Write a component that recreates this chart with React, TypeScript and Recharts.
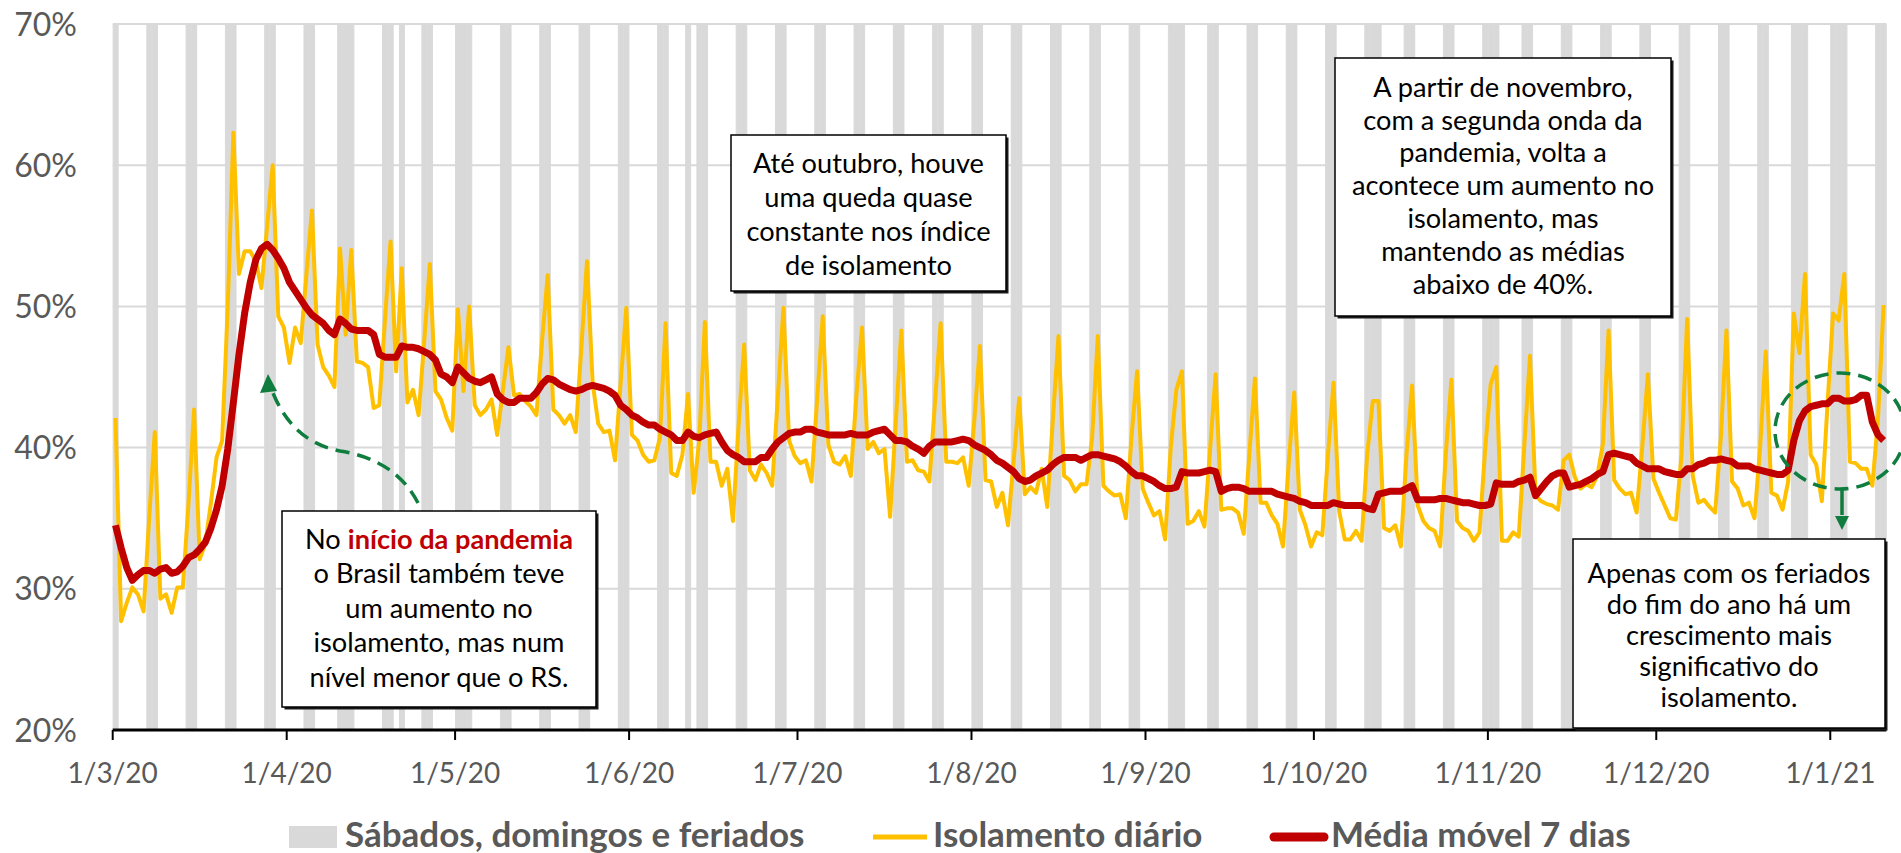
import React from 'react';
import { ComposedChart, Bar, Line, XAxis, YAxis, CartesianGrid } from 'recharts';

// months covered by the daily series (1/3/20 .. 10/1/21)
const monthNums = [3, 4, 5, 6, 7, 8, 9, 10, 11, 12, 1];
const monthYears = ['20', '20', '20', '20', '20', '20', '20', '20', '20', '20', '21'];
const monthDays = [31, 30, 31, 30, 31, 31, 30, 31, 30, 31, 10];

const monthTicks = ['1/3/20', '1/4/20', '1/5/20', '1/6/20', '1/7/20', '1/8/20', '1/9/20', '1/10/20', '1/11/20', '1/12/20', '1/1/21'];
const yTicks = [20, 30, 40, 50, 60, 70];

// Sábados, domingos e feriados
const grayDays = [
  '1/3/20', '7/3/20', '8/3/20', '14/3/20', '15/3/20', '21/3/20', '22/3/20', '28/3/20', '29/3/20',
  '4/4/20', '5/4/20', '10/4/20', '11/4/20', '12/4/20', '18/4/20', '19/4/20', '21/4/20', '25/4/20', '26/4/20',
  '1/5/20', '2/5/20', '3/5/20', '9/5/20', '10/5/20', '16/5/20', '17/5/20', '23/5/20', '24/5/20', '30/5/20', '31/5/20',
  '6/6/20', '7/6/20', '11/6/20', '13/6/20', '14/6/20', '20/6/20', '21/6/20', '27/6/20', '28/6/20',
  '4/7/20', '5/7/20', '11/7/20', '12/7/20', '18/7/20', '19/7/20', '25/7/20', '26/7/20',
  '1/8/20', '2/8/20', '8/8/20', '9/8/20', '15/8/20', '16/8/20', '22/8/20', '23/8/20', '29/8/20', '30/8/20',
  '5/9/20', '6/9/20', '7/9/20', '12/9/20', '13/9/20', '19/9/20', '20/9/20', '26/9/20', '27/9/20',
  '3/10/20', '4/10/20', '10/10/20', '11/10/20', '12/10/20', '17/10/20', '18/10/20', '24/10/20', '25/10/20', '31/10/20',
  '1/11/20', '2/11/20', '7/11/20', '8/11/20', '14/11/20', '15/11/20', '21/11/20', '22/11/20', '28/11/20', '29/11/20',
  '5/12/20', '6/12/20', '12/12/20', '13/12/20', '19/12/20', '20/12/20', '25/12/20', '26/12/20', '27/12/20',
  '1/1/21', '2/1/21', '3/1/21', '9/1/21', '10/1/21',
];

// Isolamento diário (%)
const isolMar = [42.1, 27.7, 29.0, 30.1, 29.6, 28.4, 35.0, 41.1, 29.3, 29.6, 28.3, 30.1, 30.1, 36.0, 42.7, 32.1, 33.2, 36.1, 39.3, 40.5, 50.0, 62.3, 52.3, 53.9, 53.9, 53.2, 51.3, 55.6, 60.0, 49.3, 48.5];
const isolApr = [46.0, 48.5, 47.4, 52.2, 56.8, 47.3, 45.7, 45.1, 44.3, 54.1, 48.0, 54.0, 46.1, 46.0, 45.7, 42.8, 43.0, 49.0, 54.6, 45.4, 52.7, 43.2, 44.1, 42.3, 47.5, 53.0, 44.0, 43.4, 42.1, 41.2];
const isolMay = [49.8, 44.0, 50.0, 43.0, 42.3, 42.7, 43.4, 40.9, 44.0, 47.1, 43.7, 43.8, 43.3, 42.9, 42.3, 47.6, 52.2, 42.7, 42.3, 41.7, 42.3, 41.1, 47.1, 53.2, 44.6, 41.7, 41.1, 41.2, 39.1, 44.6, 49.9];
const isolJun = [40.9, 40.5, 39.5, 39.0, 39.1, 40.7, 48.8, 38.2, 38.0, 39.5, 43.8, 36.8, 40.5, 48.9, 39.0, 39.0, 37.3, 38.5, 34.8, 41.5, 47.3, 38.4, 37.7, 38.8, 38.2, 37.3, 43.6, 49.9, 40.5, 39.4];
const isolJul = [38.9, 39.1, 37.6, 43.4, 49.3, 40.2, 39.0, 38.8, 39.4, 38.0, 43.7, 48.5, 39.9, 40.4, 39.6, 39.9, 35.1, 41.7, 48.3, 39.0, 39.1, 38.4, 38.3, 37.6, 43.2, 48.8, 39.0, 39.0, 38.9, 39.3, 37.3];
const isolAug = [41.9, 47.2, 37.7, 37.6, 35.8, 36.8, 34.5, 39.0, 43.5, 36.7, 37.2, 36.8, 38.5, 35.8, 42.0, 47.9, 38.0, 37.7, 36.9, 37.4, 37.4, 40.7, 47.9, 37.3, 36.9, 36.6, 36.7, 35.0, 40.7, 45.4, 37.1];
const isolSep = [36.1, 35.2, 35.5, 33.5, 40.0, 44.1, 45.4, 34.6, 34.8, 35.5, 34.4, 39.8, 45.2, 35.6, 35.7, 35.7, 35.4, 33.9, 39.5, 44.9, 36.1, 36.1, 35.2, 34.6, 33.0, 38.8, 43.9, 35.6, 34.5, 33.0];
const isolOct = [34.0, 33.8, 39.4, 44.6, 35.5, 33.5, 33.5, 34.1, 33.4, 39.5, 43.3, 43.3, 34.3, 34.1, 34.5, 33.0, 39.5, 44.4, 35.9, 34.8, 34.3, 34.1, 33.0, 39.5, 44.8, 34.8, 34.3, 34.1, 33.4, 34.0, 39.8];
const isolNov = [44.5, 45.7, 33.4, 33.4, 34.0, 33.7, 40.2, 46.5, 36.6, 36.2, 36.0, 35.9, 35.6, 39.1, 39.5, 37.9, 37.1, 37.4, 37.2, 38.0, 40.3, 48.3, 37.7, 37.1, 36.7, 36.8, 35.4, 40.0, 45.2, 37.8];
const isolDec = [36.8, 35.9, 35.0, 34.9, 39.5, 49.1, 38.0, 36.1, 36.3, 35.8, 35.4, 40.7, 48.3, 37.6, 37.1, 35.9, 36.1, 35.0, 40.0, 46.8, 36.8, 36.6, 35.6, 37.6, 49.5, 46.7, 52.3, 39.5, 38.8, 36.2, 43.0];
const isolJan = [49.5, 49.0, 52.3, 39.0, 38.9, 38.5, 38.5, 37.3, 42.0, 50.1];

// Média móvel 7 dias (%)
const mm7Mar = [34.5, 32.9, 31.5, 30.6, 31.0, 31.3, 31.3, 31.1, 31.4, 31.5, 31.1, 31.2, 31.6, 32.2, 32.4, 32.8, 33.3, 34.3, 35.6, 37.3, 39.9, 43.2, 46.6, 49.5, 51.7, 53.3, 54.1, 54.4, 54.0, 53.4, 52.7];
const mm7Apr = [51.7, 51.1, 50.5, 49.9, 49.4, 49.1, 48.8, 48.3, 48.0, 49.1, 48.8, 48.4, 48.3, 48.3, 48.3, 48.0, 46.6, 46.4, 46.4, 46.4, 47.2, 47.1, 47.1, 47.0, 46.8, 46.6, 46.2, 45.2, 45.0, 44.6];
const mm7May = [45.7, 45.3, 44.9, 44.7, 44.6, 44.8, 45.0, 43.8, 43.4, 43.2, 43.2, 43.5, 43.5, 43.5, 43.9, 44.5, 44.9, 44.8, 44.5, 44.3, 44.1, 44.0, 44.1, 44.3, 44.4, 44.3, 44.2, 44.0, 43.7, 43.0, 42.7];
const mm7Jun = [42.3, 42.1, 41.8, 41.6, 41.6, 41.3, 41.1, 40.9, 40.5, 40.5, 41.1, 40.8, 40.7, 40.9, 41.0, 41.1, 40.4, 39.8, 39.5, 39.3, 39.0, 39.0, 39.0, 39.3, 39.3, 39.9, 40.4, 40.7, 41.0, 41.1];
const mm7Jul = [41.1, 41.3, 41.3, 41.1, 41.0, 40.9, 40.9, 40.9, 40.9, 41.0, 40.9, 40.9, 40.9, 41.1, 41.2, 41.3, 40.9, 40.5, 40.5, 40.4, 40.1, 39.9, 39.6, 40.1, 40.4, 40.4, 40.4, 40.4, 40.5, 40.6, 40.5];
const mm7Aug = [40.2, 40.0, 39.8, 39.5, 39.1, 38.9, 38.6, 38.3, 37.8, 37.6, 37.7, 38.0, 38.2, 38.4, 38.8, 39.1, 39.3, 39.3, 39.3, 39.1, 39.3, 39.5, 39.5, 39.4, 39.3, 39.2, 39.0, 38.7, 38.3, 38.0, 38.0];
const mm7Sep = [37.8, 37.6, 37.3, 37.1, 37.1, 37.2, 38.3, 38.2, 38.2, 38.2, 38.3, 38.4, 38.3, 36.9, 37.1, 37.2, 37.2, 37.1, 36.9, 36.9, 36.9, 36.9, 36.9, 36.7, 36.6, 36.5, 36.4, 36.2, 36.1, 35.9];
const mm7Oct = [35.9, 35.9, 35.9, 36.1, 36.0, 35.9, 35.9, 35.9, 35.9, 35.7, 35.6, 36.7, 36.8, 36.9, 36.9, 36.9, 37.1, 37.3, 36.3, 36.3, 36.3, 36.3, 36.4, 36.4, 36.3, 36.2, 36.1, 36.1, 36.0, 35.9, 35.9];
const mm7Nov = [36.0, 37.5, 37.4, 37.4, 37.4, 37.6, 37.7, 37.9, 36.6, 37.1, 37.6, 38.0, 38.2, 38.2, 37.2, 37.3, 37.4, 37.6, 37.8, 38.1, 38.3, 39.5, 39.6, 39.5, 39.4, 39.3, 38.9, 38.7, 38.5, 38.5];
const mm7Dec = [38.5, 38.3, 38.2, 38.1, 38.1, 38.5, 38.5, 38.8, 38.9, 39.1, 39.1, 39.2, 39.1, 39.0, 38.7, 38.7, 38.7, 38.5, 38.4, 38.3, 38.2, 38.1, 38.1, 38.4, 40.5, 41.9, 42.6, 42.9, 43.0, 43.1, 43.1];
const mm7Jan = [43.5, 43.5, 43.3, 43.3, 43.4, 43.7, 43.7, 41.8, 40.9, 40.5];

const isolamento = [...isolMar, ...isolApr, ...isolMay, ...isolJun, ...isolJul, ...isolAug, ...isolSep, ...isolOct, ...isolNov, ...isolDec, ...isolJan];
const mediaMovel = [...mm7Mar, ...mm7Apr, ...mm7May, ...mm7Jun, ...mm7Jul, ...mm7Aug, ...mm7Sep, ...mm7Oct, ...mm7Nov, ...mm7Dec, ...mm7Jan];

const labels: string[] = [];
monthNums.forEach((m, k) => {
  for (let d = 1; d <= monthDays[k]; d++) labels.push(`${d}/${m}/${monthYears[k]}`);
});
const graySet = new Set(grayDays);
const data = labels.map((label, i) => ({
  label,
  feriado: graySet.has(label) ? 70 : null,
  isol: isolamento[i],
  mm7: mediaMovel[i],
}));

const FONT = 'Lato, "Open Sans", sans-serif';
const AXIS_Y = 730;
const GRAY = '#595959';
const GREEN = '#0f7d3e';

const XTick = (props: any) => {
  const { x, payload } = props;
  const x0 = x - (payload.offset || 0);
  return (
    <g>
      <line x1={x0} x2={x0} y1={AXIS_Y} y2={AXIS_Y + 10} stroke="#000" strokeWidth={2} />
      <text x={x0} y={783} textAnchor="middle" fill={GRAY} fontSize={28} fontFamily={FONT}>{payload.value}</text>
    </g>
  );
};

const YTick = (props: any) => {
  const { y, payload } = props;
  return (
    <text x={77} y={y + 11.5} textAnchor="end" fill={GRAY} fontSize={32} fontFamily={FONT}>{payload.value}%</text>
  );
};

const NoteBox = ({ x, y, w, h, base, step, children }: any) => (
  <g>
    <rect x={x + 2.5} y={y + 2.5} width={w} height={h} fill="#1a1a1a" />
    <rect x={x} y={y} width={w} height={h} fill="#fff" stroke="#000" strokeWidth={1.5} />
    {React.Children.map(children, (line: any, i: number) => (
      <text x={x + w / 2} y={base + i * step} textAnchor="middle" fontSize={27.2} fontFamily={FONT} fill="#000">{line}</text>
    ))}
  </g>
);

const Overlay = () => (
  <svg width={1901} height={853} style={{ position: 'absolute', left: 0, top: 0, pointerEvents: 'none' }}>
    {/* seta verde: início da pandemia */}
    <path d="M418,503 Q396,460 340,451 Q293,442 273,393" fill="none" stroke={GREEN} strokeWidth={3.5} strokeDasharray="14 8" />
    <polygon points="268,374 260,393 277,391" fill={GREEN} />
    {/* elipse e seta: fim do ano */}
    <ellipse cx={1840} cy={431} rx={65} ry={58} fill="none" stroke={GREEN} strokeWidth={3.5} strokeDasharray="14 8" />
    <line x1={1842} x2={1842} y1={489} y2={515} stroke={GREEN} strokeWidth={3.5} />
    <polygon points="1835,516 1849,516 1842,530" fill={GREEN} />

    <NoteBox x={282} y={511} w={314} h={196} base={549} step={34.4}>
      <tspan>No <tspan fill="#c00000" fontWeight="bold">início da pandemia</tspan></tspan>
      <tspan>o Brasil também teve</tspan>
      <tspan>um aumento no</tspan>
      <tspan>isolamento, mas num</tspan>
      <tspan>nível menor que o RS.</tspan>
    </NoteBox>
    <NoteBox x={731} y={135} w={275} h={156} base={172.7} step={34}>
      <tspan>Até outubro, houve</tspan>
      <tspan>uma queda quase</tspan>
      <tspan>constante nos índice</tspan>
      <tspan>de isolamento</tspan>
    </NoteBox>
    <NoteBox x={1335} y={58} w={336} h={258} base={96.7} step={32.8}>
      <tspan>A partir de novembro,</tspan>
      <tspan>com a segunda onda da</tspan>
      <tspan>pandemia, volta a</tspan>
      <tspan>acontece um aumento no</tspan>
      <tspan>isolamento, mas</tspan>
      <tspan>mantendo as médias</tspan>
      <tspan>abaixo de 40%.</tspan>
    </NoteBox>
    <NoteBox x={1573} y={539} w={312} h={189} base={582.7} step={31}>
      <tspan>Apenas com os feriados</tspan>
      <tspan>do fim do ano há um</tspan>
      <tspan>crescimento mais</tspan>
      <tspan>significativo do</tspan>
      <tspan>isolamento.</tspan>
    </NoteBox>

    {/* legenda */}
    <g fontFamily={FONT} fontSize={35} fontWeight="bold" fill={GRAY}>
      <rect x={289} y={826} width={48} height={22} fill="#d9d9d9" />
      <text x={345} y={847}>Sábados, domingos e feriados</text>
      <line x1={873} x2={927} y1={837} y2={837} stroke="#ffc000" strokeWidth={5} />
      <text x={933} y={847}>Isolamento diário</text>
      <line x1={1274} x2={1324} y1={837} y2={837} stroke="#c00000" strokeWidth={9} strokeLinecap="round" />
      <text x={1331} y={847}>Média móvel 7 dias</text>
    </g>
  </svg>
);

export default function App() {
  return (
    <div style={{ position: 'absolute', left: 0, top: 0, width: 1901, height: 853, background: '#fff' }}>
      <ComposedChart
        width={1901}
        height={853}
        data={data}
        margin={{ top: 24, right: 14.6, bottom: 0, left: 0 }}
        barCategoryGap="8%"
      >
        <CartesianGrid vertical={false} stroke="#d9d9d9" strokeWidth={2} />
        <XAxis
          dataKey="label"
          ticks={monthTicks}
          interval={0}
          height={123}
          tickLine={false}
          axisLine={{ stroke: '#000', strokeWidth: 3 }}
          tick={<XTick />}
        />
        <YAxis
          domain={[20, 70]}
          ticks={yTicks}
          width={112.7}
          axisLine={false}
          tickLine={false}
          tick={<YTick />}
          allowDataOverflow
        />
        <Bar dataKey="feriado" fill="#d9d9d9" stroke="#d9d9d9" strokeWidth={1} isAnimationActive={false} />
        <Line type="linear" dataKey="isol" stroke="#ffc000" strokeWidth={4} strokeLinejoin="round" dot={false} activeDot={false} isAnimationActive={false} />
        <Line type="linear" dataKey="mm7" stroke="#c00000" strokeWidth={7} strokeLinejoin="round" dot={false} activeDot={false} isAnimationActive={false} />
      </ComposedChart>
      <Overlay />
    </div>
  );
}
